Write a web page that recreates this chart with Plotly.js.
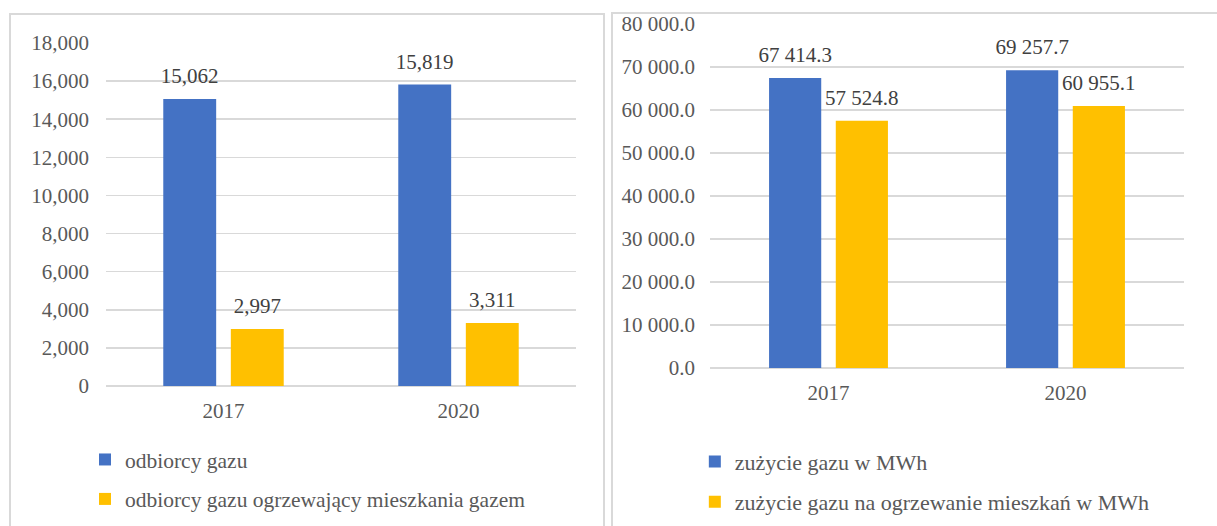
<!DOCTYPE html>
<html>
<head>
<meta charset="utf-8">
<script src="https://cdn.plot.ly/plotly-3.0.1.min.js"></script>
<style>
  html, body { margin: 0; padding: 0; background: #ffffff; overflow: hidden; width: 1217px; height: 526px; }
  #left { position: absolute; left: 0; top: 0; width: 605px; height: 526px; }
  #right { position: absolute; left: 612px; top: 0; width: 605px; height: 526px; }
  .frame { position: absolute; box-sizing: border-box; border: 2px solid #d9d9d9; pointer-events: none; z-index: 10; }
  #frameL { left: 9px; top: 13px; width: 596px; height: 620px; }
  #frameR { left: 611px; top: 12px; width: 700px; height: 620px; }
</style>
</head>
<body>
<div id="left"></div>
<div id="right"></div>
<div class="frame" id="frameL"></div>
<div class="frame" id="frameR"></div>
<script>
// ---- data ----
var years = ['2017', '2020'];

var leftSeriesNames = ['odbiorcy gazu', 'odbiorcy gazu ogrzewający mieszkania gazem'];
var odbiorcyGazu = [15062, 15819];
var odbiorcyOgrzewajacy = [2997, 3311];
var leftTickVals = [0, 2000, 4000, 6000, 8000, 10000, 12000, 14000, 16000, 18000];

var rightSeriesNames = ['zużycie gazu w MWh', 'zużycie gazu na ogrzewanie mieszkań w MWh'];
var zuzycieGazu = [67414.3, 69257.7];
var zuzycieOgrzewanie = [57524.8, 60955.1];
var rightTickVals = [0, 10000, 20000, 30000, 40000, 50000, 60000, 70000, 80000];

// ---- styles ----
var BLUE = '#4472C4';
var GOLD = '#FFC000';
var FONT = 'Liberation Serif, Times New Roman, serif';
var TICK_COLOR = '#595959';
var LABEL_COLOR = '#404040';
var GRID = '#d9d9d9';

function barTrace(name, y, color, fmt, group) {
  return {
    type: 'bar',
    name: name,
    x: years,
    y: y,
    legendgroup: group,
    marker: { color: color, line: { width: 0 } },
    texttemplate: "<span style='font-size:21px'>%{y:" + fmt + "}</span><br>\u00a0",
    textposition: 'outside',
    constraintext: 'none',
    cliponaxis: false,
    textfont: { family: FONT, size: 8.5, color: LABEL_COLOR },
    hoverinfo: 'skip'
  };
}

function baseLayout(opts) {
  return {
    width: 605,
    height: 526,
    margin: Object.assign({ autoexpand: false }, opts.margin),
    paper_bgcolor: 'rgba(0,0,0,0)',
    plot_bgcolor: 'rgba(0,0,0,0)',
    separators: opts.separators,
    barmode: 'group',
    bargap: opts.bargap,
    bargroupgap: opts.bargroupgap,
    showlegend: true,
    font: { family: FONT, size: 21, color: TICK_COLOR },
    xaxis: {
      type: 'category',
      showgrid: false,
      showline: false,
      zeroline: false,
      ticks: '',
      ticklabelstandoff: 10,
      tickfont: { family: FONT, size: 21, color: TICK_COLOR },
      fixedrange: true
    },
    yaxis: {
      range: opts.yrange,
      tickmode: 'array',
      tickvals: opts.tickvals,
      tickformat: opts.tickformat,
      showgrid: true,
      gridcolor: GRID,
      gridwidth: 1.6,
      zeroline: true,
      zerolinecolor: GRID,
      zerolinewidth: 1.6,
      showline: false,
      ticks: '',
      ticklabelstandoff: opts.ystandoff,
      tickfont: { family: FONT, size: 21, color: TICK_COLOR },
      fixedrange: true
    },
    legend: {
      orientation: 'v',
      x: opts.legendX,
      xanchor: 'left',
      y: opts.legendY,
      yanchor: 'top',
      bgcolor: 'rgba(0,0,0,0)',
      borderwidth: 0,
      tracegroupgap: 8.5,
      font: { family: FONT, size: opts.legendSize, color: TICK_COLOR }
    }
  };
}

var cfg = { displayModeBar: false, staticPlot: true };

Plotly.newPlot('left', [
  barTrace(leftSeriesNames[0], odbiorcyGazu, BLUE, ',d', 'a'),
  barTrace(leftSeriesNames[1], odbiorcyOgrzewajacy, GOLD, ',d', 'b')
], baseLayout({
  margin: { l: 106, r: 29, t: 43, b: 140 },
  separators: '.,',
  bargap: 0.425,
  bargroupgap: 0.217,
  yrange: [0, 18000],
  tickvals: leftTickVals,
  tickformat: ',d',
  ystandoff: 16,
  legendX: -0.0447,
  legendY: -0.1545,
  legendSize: 21.5
}), cfg);

Plotly.newPlot('right', [
  barTrace(rightSeriesNames[0], zuzycieGazu, BLUE, ',.1f', 'a'),
  barTrace(rightSeriesNames[1], zuzycieOgrzewanie, GOLD, ',.1f', 'b')
], baseLayout({
  margin: { l: 97.5, r: 32.5, t: 24.3, b: 157.7 },
  separators: '. ',
  bargap: 0.437,
  bargroupgap: 0.218,
  yrange: [0, 80000],
  tickvals: rightTickVals,
  tickformat: ',.1f',
  ystandoff: 14,
  legendX: -0.032,
  legendY: -0.2115,
  legendSize: 22
}), cfg);
</script>
</body>
</html>
